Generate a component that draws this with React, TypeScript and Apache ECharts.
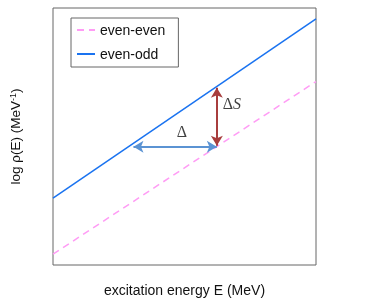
import React, { useEffect, useRef } from "react";
import * as echarts from "echarts";

const xRange = [0, 10];
const evenOddLogRho = [2.6, 9.58];
const evenEvenLogRho = [0.42, 7.14];
const deltaArrowX = [3.06, 6.23];
const deltaArrowY = 4.6;
const deltaSArrowX = 6.23;
const deltaSArrowY = [4.64, 6.9];
const deltaLabelPos = [4.9, 5.2];
const deltaSLabelPos = [6.8, 6.3];

export default function App() {
  const ref = useRef<HTMLDivElement>(null);
  useEffect(() => {
    const chart = echarts.init(ref.current!, null, { renderer: "svg" });
    const font = "'Liberation Sans', Arial, Helvetica, sans-serif";
    const serif = "'Liberation Serif', 'Times New Roman', serif";
    chart.setOption({
      animation: false,
      textStyle: { fontFamily: font },
      grid: {
        left: 51, top: 8, right: 58, bottom: 35,
        show: true, borderColor: "#666", borderWidth: 1,
      },
      legend: {
        orient: "vertical",
        left: 71, top: 18,
        padding: [5, 13, 6, 5],
        itemGap: 10,
        itemWidth: 18,
        itemHeight: 14,
        borderColor: "#666",
        borderWidth: 1,
        itemStyle: { opacity: 0 },
        textStyle: { fontSize: 14, color: "#111", fontFamily: font },
        data: ["even-even", "even-odd"],
      },
      xAxis: {
        type: "value", min: xRange[0], max: xRange[1],
        axisLine: { show: false }, axisTick: { show: false },
        axisLabel: { show: false }, splitLine: { show: false },
        name: "excitation energy E (MeV)",
        nameLocation: "middle", nameGap: 18,
        nameTextStyle: { fontSize: 14, color: "#111", fontFamily: font },
      },
      yAxis: {
        type: "value", min: 0, max: 10,
        axisLine: { show: false }, axisTick: { show: false },
        axisLabel: { show: false }, splitLine: { show: false },
        name: "{a|log ρ(E) (MeV}{s|-1}{a|)}",
        nameLocation: "middle", nameGap: 30,
        nameTextStyle: {
          color: "#111",
          rich: {
            a: { fontSize: 13.5, color: "#111", fontFamily: font },
            s: { fontSize: 9, color: "#111", fontFamily: font, verticalAlign: "top", padding: [0, 0, 6, 0] },
          },
        },
      },
      series: [
        {
          name: "even-even", type: "line", symbol: "none",
          data: [[xRange[0], evenEvenLogRho[0]], [xRange[1], evenEvenLogRho[1]]],
          lineStyle: { color: "#ff9cf5", width: 1.5, type: [7, 5] },
          itemStyle: { color: "#ff9cf5" },
        },
        {
          name: "even-odd", type: "line", symbol: "none",
          data: [[xRange[0], evenOddLogRho[0]], [xRange[1], evenOddLogRho[1]]],
          lineStyle: { color: "#1a73f0", width: 1.5 },
          itemStyle: { color: "#1a73f0" },
          markLine: {
            silent: true,
            symbol: ["arrow", "arrow"],
            symbolSize: [9, 10],
            label: { show: false },
            data: [
              [
                { coord: [deltaArrowX[0], deltaArrowY], lineStyle: { color: "#5b93d3", width: 2, type: "solid" }, itemStyle: { color: "#5b93d3" } },
                { coord: [deltaArrowX[1], deltaArrowY] },
              ],
              [
                { coord: [deltaSArrowX, deltaSArrowY[0]], lineStyle: { color: "#a83d3d", width: 2, type: "solid" }, itemStyle: { color: "#a83d3d" } },
                { coord: [deltaSArrowX, deltaSArrowY[1]] },
              ],
            ],
          },
        },
        {
          type: "scatter", symbolSize: 0, silent: true,
          data: [
            { value: deltaLabelPos, label: { formatter: "{a|Δ}" } },
            { value: deltaSLabelPos, label: { formatter: "{a|Δ}{b|S}" } },
          ],
          label: {
            show: true, position: "inside",
            rich: {
              a: { fontFamily: serif, fontSize: 16, color: "#111" },
              b: { fontFamily: serif, fontSize: 16, color: "#111", fontStyle: "italic" },
            },
          },
        },
      ],
    });
    return () => chart.dispose();
  }, []);
  return <div ref={ref} style={{ position: "fixed", left: 0, top: 0, width: 374, height: 302 }} />;
}
